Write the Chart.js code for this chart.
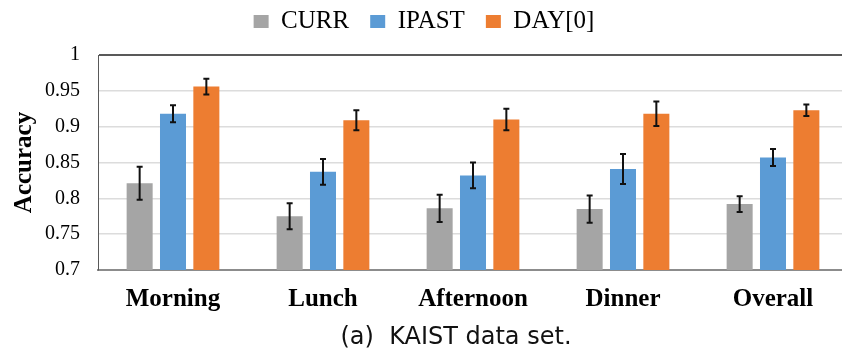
<!DOCTYPE html>
<html>
<head>
<meta charset="utf-8">
<script src="https://cdn.jsdelivr.net/npm/chart.js@4.4.0/dist/chart.umd.min.js"></script>
<style>
  html, body { margin: 0; padding: 0; background: #fff; overflow: hidden; }
  #wrap { position: relative; width: 848px; height: 352px; }
  #caption {
    position: absolute; left: 256px; top: 322px; width: 400px;
    text-align: center; font-family: 'DejaVu Sans', sans-serif;
    font-size: 24px; line-height: 28px; color: #111;
  }
</style>
</head>
<body>
<div id="wrap">
  <canvas id="chart"></canvas>
  <div id="caption">(a)&nbsp; KAIST data set.</div>
</div>
<script>
// chart data
const categories = ['Morning', 'Lunch', 'Afternoon', 'Dinner', 'Overall'];
const curr = [0.821, 0.775, 0.786, 0.785, 0.792];
const currErr = [0.023, 0.018, 0.019, 0.019, 0.011];
const ipast = [0.918, 0.837, 0.832, 0.841, 0.857];
const ipastErr = [0.012, 0.018, 0.018, 0.021, 0.012];
const day0 = [0.956, 0.909, 0.910, 0.918, 0.923];
const day0Err = [0.011, 0.014, 0.015, 0.017, 0.008];
const yTicks = [0.7, 0.75, 0.8, 0.85, 0.9, 0.95, 1];

const errors = [currErr, ipastErr, day0Err];

// draws the error bars on top of each bar
const errorBars = {
    id: 'errorBars',
    afterDatasetsDraw(chart) {
        const ctx = chart.ctx;
        const y = chart.scales.y;
        ctx.save();
        ctx.strokeStyle = '#111';
        ctx.lineWidth = 2;
        chart.data.datasets.forEach((ds, i) => {
            const meta = chart.getDatasetMeta(i);
            meta.data.forEach((bar, j) => {
                const v = ds.data[j];
                const e = errors[i][j];
                const top = y.getPixelForValue(v + e);
                const bot = y.getPixelForValue(v - e);
                ctx.beginPath();
                ctx.moveTo(bar.x, top);
                ctx.lineTo(bar.x, bot);
                ctx.moveTo(bar.x - 3, top);
                ctx.lineTo(bar.x + 3, top);
                ctx.moveTo(bar.x - 3, bot);
                ctx.lineTo(bar.x + 3, bot);
                ctx.stroke();
            });
        });
        ctx.restore();
    }
};

// a bit more room under the legend
const legendGap = {
    id: 'legendGap',
    afterInit(chart) {
        const fit = chart.legend.fit;
        chart.legend.fit = function () {
            fit.call(this);
            this.height += 11;
        };
    }
};

Chart.defaults.font.family = "'Liberation Serif', 'Times New Roman', serif";
Chart.defaults.color = '#000';

new Chart(document.getElementById('chart'), {
    type: 'bar',
    data: {
        labels: categories,
        datasets: [
            { label: 'CURR', data: curr, backgroundColor: '#a5a5a5' },
            { label: 'IPAST', data: ipast, backgroundColor: '#5b9bd5' },
            { label: 'DAY[0]', data: day0, backgroundColor: '#ed7d31' }
        ]
    },
    options: {
        responsive: true,
        maintainAspectRatio: false,
        animation: false,
        layout: { padding: { top: -12, bottom: 32, left: 0, right: 0 } },
        datasets: {
            bar: { categoryPercentage: 0.667, barPercentage: 0.78 }
        },
        plugins: {
            legend: {
                position: 'top',
                labels: {
                    font: { size: 25 },
                    boxWidth: 15,
                    boxHeight: 13,
                    padding: 21
                }
            },
            tooltip: { enabled: false }
        },
        scales: {
            x: {
                grid: { display: false, drawTicks: false },
                border: { display: true, color: '#8c8c8c', width: 2 },
                ticks: { font: { size: 25, weight: 'bold' }, padding: 15 },
                afterFit(scale) { scale.height = 50; }
            },
            y: {
                min: 0.7,
                max: 1,
                afterFit(scale) { scale.width = 98; },
                afterBuildTicks(scale) {
                    scale.ticks = yTicks.map(v => ({ value: v }));
                },
                ticks: {
                    font: { size: 20 },
                    padding: 18,
                    callback: v => String(+v.toFixed(2))
                },
                grid: {
                    drawTicks: false,
                    color: c => c.tick.value === 1 ? '#595959' : '#dcdcdc',
                    lineWidth: c => c.tick.value === 1 ? 2 : 1.5
                },
                border: { display: true, color: '#595959', width: 1 },
                title: {
                    display: true,
                    text: 'Accuracy',
                    font: { size: 25, weight: 'bold' },
                    padding: { top: 10, bottom: 0 }
                }
            }
        }
    },
    plugins: [errorBars, legendGap]
});
</script>
</body>
</html>
